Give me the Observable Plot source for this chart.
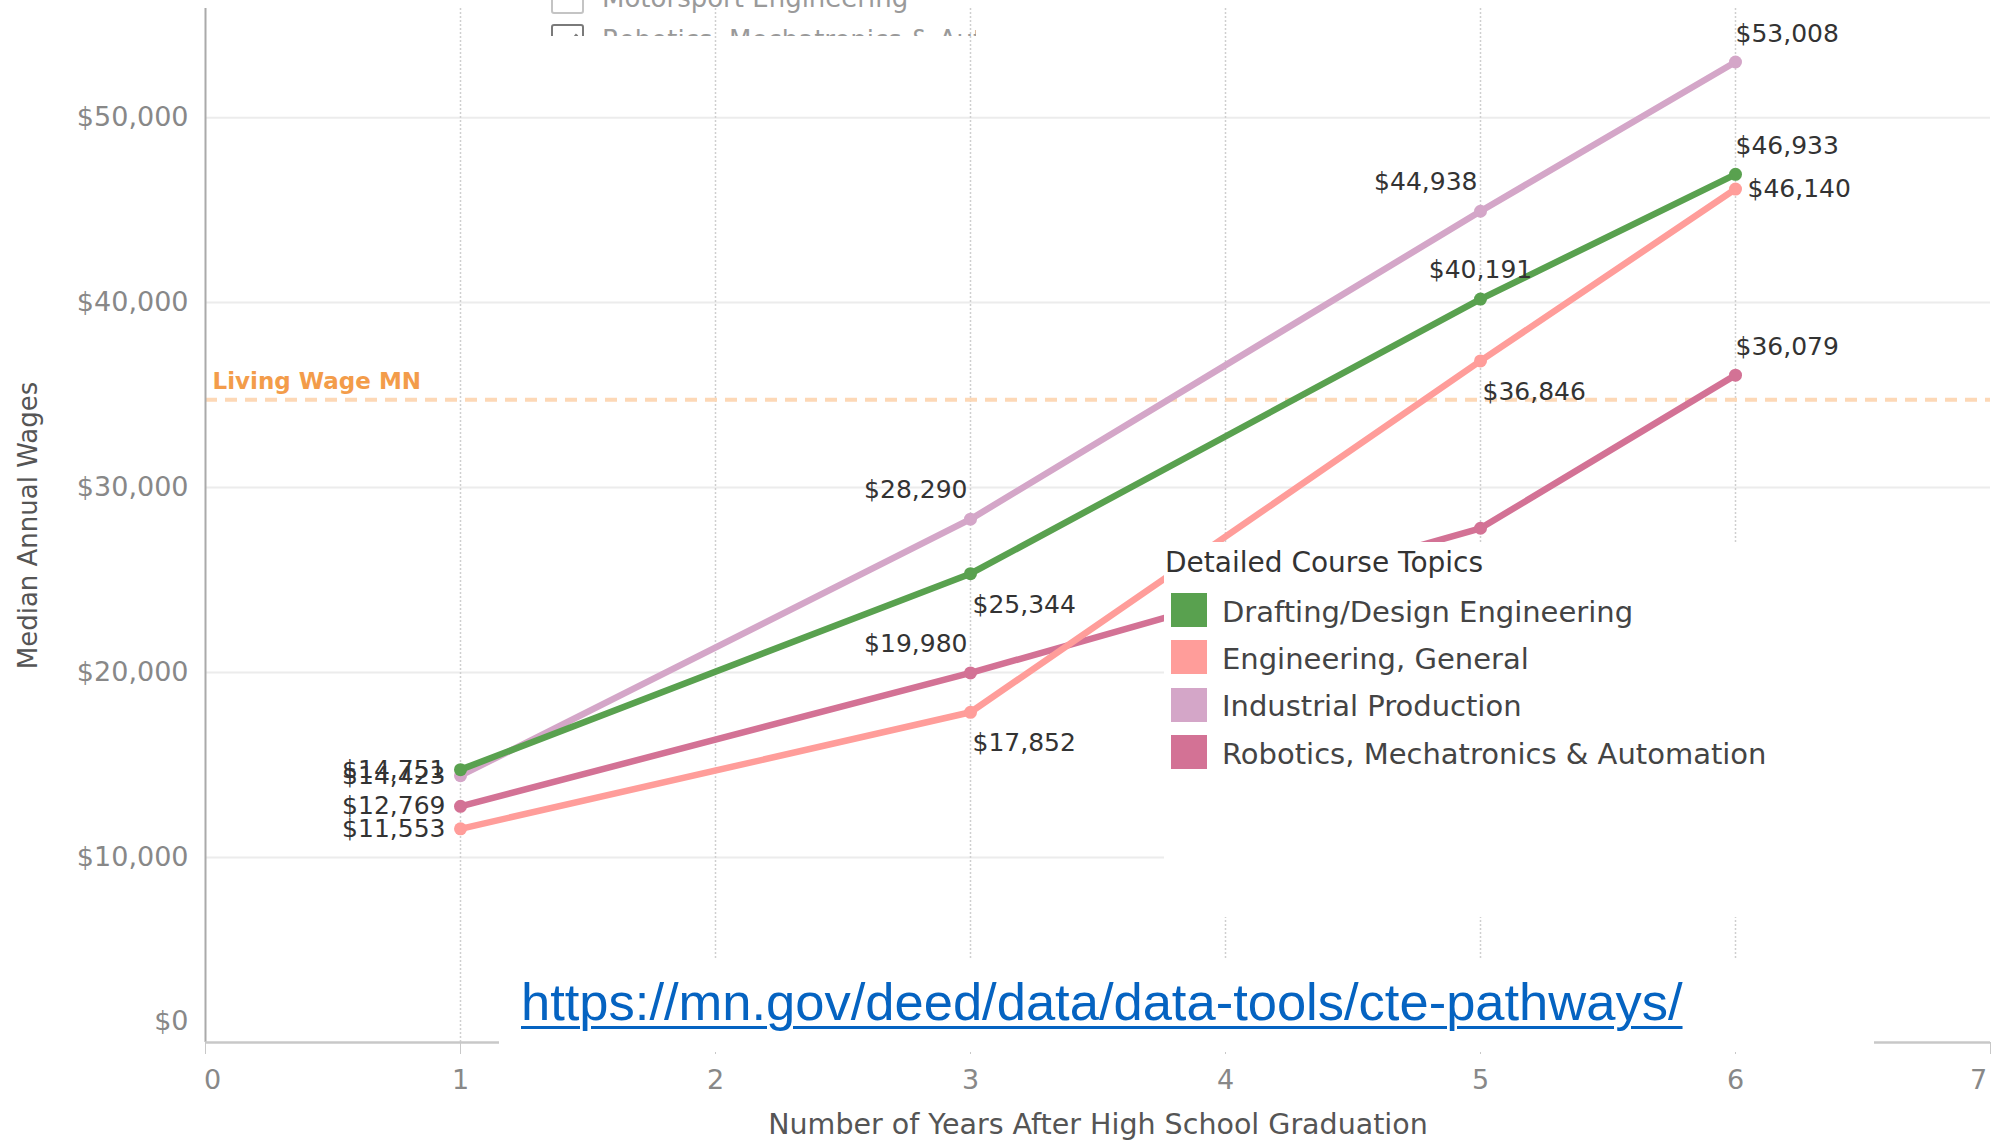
<!DOCTYPE html>
<html>
<head>
<meta charset="utf-8">
<script src="https://cdn.jsdelivr.net/npm/d3@7"></script>
<script src="https://cdn.jsdelivr.net/npm/@observablehq/plot@0.6"></script>
<style>
  html, body { margin: 0; padding: 0; background: #fff; overflow: hidden; }
  #wrap { position: relative; width: 1992px; height: 1141px; font-family: "DejaVu Sans", sans-serif; }
  #wrap svg { position: absolute; left: 0; top: 0; }
  #filter { position: absolute; left: 0; top: 0; width: 976px; height: 36px; overflow: hidden; }
  #filter .cb { position: absolute; left: 551px; width: 33px; height: 29px; border: 2px solid #c4c4c4; border-radius: 3px; box-sizing: border-box; }
  #filter .cb.on { border-color: #7a7a7a; }
  #filter .cb.on::after { content: ""; position: absolute; left: 10px; top: 4px; width: 8px; height: 14px; border-right: 3px solid #7a7a7a; border-bottom: 3px solid #7a7a7a; transform: rotate(40deg); }
  #filter .lbl { position: absolute; left: 602px; font-size: 26px; line-height: 26px; color: #9a9a9a; white-space: nowrap; }
  #legend { position: absolute; left: 1164px; top: 542px; width: 828px; height: 375px; background: #fff; }
  #legend .title { position: absolute; left: 1px; top: 7px; font-size: 28px; line-height: 28px; color: #333; white-space: nowrap; }
  #legend .sw { position: absolute; left: 7px; width: 36px; height: 34px; }
  #legend .txt { position: absolute; left: 58px; font-size: 29px; line-height: 34px; color: #444; white-space: nowrap; }
  #url { position: absolute; left: 499px; top: 959px; width: 1375px; height: 93px; background: #fff; }
  #url a { position: absolute; left: 22px; top: 17px; font-family: "Liberation Sans", Arial, sans-serif; font-size: 52.5px; line-height: 52px; color: #0563c1; text-decoration: underline; text-decoration-thickness: 3px; text-underline-offset: 6px; white-space: nowrap; }
</style>
</head>
<body>
<div id="wrap"></div>
<script>
// ---------- data ----------
const years = [1, 3, 5, 6];
const topics = [
  "Drafting/Design Engineering",
  "Engineering, General",
  "Industrial Production",
  "Robotics, Mechatronics & Automation"
];
const drafting    = [14751, 25344, 40191, 46933];
const engineering = [11553, 17852, 36846, 46140];
const industrial  = [14423, 28290, 44938, 53008];
const robotics    = [12769, 19980, 27800, 36079];
const livingWage = 34750;
const livingWageLabel = "Living Wage MN";
const yTicks = [10000, 20000, 30000, 40000, 50000];
const xTicks = [0, 1, 2, 3, 4, 5, 6, 7];
const filterItems = ["Motorsport Engineering", "Robotics, Mechatronics & Automation"];
const legendTitle = "Detailed Course Topics";
const sourceUrl = "https://mn.gov/deed/data/data-tools/cte-pathways/";
const xTitle = "Number of Years After High School Graduation";
const yTitle = "Median Annual Wages";

// ---------- styling config ----------
const colors = ["#59a14f", "#ff9d9a", "#d4a6c8", "#d37295"];
// where each value label sits relative to its point (per topic, per year)
const labelPlacement = [
  ["left", "below", "above", "aboveStart"],
  ["left", "below", "below", "right"],
  ["left", "aboveEnd", "aboveEnd", "aboveStart"],
  ["left", "aboveEnd", "none", "aboveStart"]
];
const placeStyle = {
  left:       {textAnchor: "end",    dx: -15, dy: 0},
  aboveStart: {textAnchor: "start",  dx: 0,   dy: -28},
  aboveEnd:   {textAnchor: "end",    dx: -3,  dy: -29},
  above:      {textAnchor: "middle", dx: 0,   dy: -29},
  below:      {textAnchor: "start",  dx: 2,   dy: 31},
  right:      {textAnchor: "start",  dx: 12,  dy: 0}
};

const series = [drafting, engineering, industrial, robotics];
const rows = topics.flatMap((t, i) => years.map((yr, j) => ({
  topic: t, year: yr, wage: series[i][j], place: labelPlacement[i][j], idx: i
})));
const fmt = d3.format("$,");

// draw order: last topic first so the first topic ends on top
const seriesMarks = [];
for (let i = topics.length - 1; i >= 0; i--) {
  const d = rows.filter(r => r.idx === i);
  seriesMarks.push(Plot.line(d, {x: "year", y: "wage", stroke: "topic", strokeWidth: 6.5, strokeLinejoin: "round"}));
  seriesMarks.push(Plot.dot(d, {x: "year", y: "wage", fill: "topic", r: 6.5}));
}
const labelMarks = Object.entries(placeStyle).map(([p, s]) =>
  Plot.text(rows.filter(r => r.place === p), {
    x: "year", y: "wage", text: d => fmt(d.wage),
    textAnchor: s.textAnchor, dx: s.dx, dy: s.dy, fontSize: 25, fill: "#333"
  })
);
const xfmt = d => String(d);

const chart = Plot.plot({
  width: 1992, height: 1141,
  marginLeft: 205, marginRight: 2, marginTop: 8, marginBottom: 99,
  style: {fontFamily: "'DejaVu Sans', sans-serif", background: "transparent", overflow: "visible"},
  x: {domain: [0, 7], label: null},
  y: {domain: [0, 55900], label: null},
  color: {domain: topics, range: colors},
  marks: [
    Plot.ruleY(yTicks, {stroke: "#ececec", strokeWidth: 2}),
    Plot.ruleX(xTicks.filter(d => d > 0 && d < 7), {stroke: "#cfcfcf", strokeWidth: 1.5, strokeDasharray: "2,2"}),
    Plot.ruleY([livingWage], {stroke: "#fdd8b6", strokeWidth: 4, strokeDasharray: "12,8"}),
    Plot.text([livingWage], {y: d => d, frameAnchor: "left", text: () => livingWageLabel,
      dx: 7, dy: -18, textAnchor: "start", fill: "#f39c4a", fontWeight: "bold", fontSize: 23}),
    Plot.ruleX([0], {stroke: "#aaaaaa", strokeWidth: 2}),
    Plot.ruleY([0], {stroke: "#c8c8c8", strokeWidth: 2.5}),
    Plot.axisX({ticks: xTicks, tickSize: 12, tickFormat: () => "", color: "#c8c8c8"}),
    Plot.axisX({ticks: xTicks.filter(d => d > 0 && d < 7), tickSize: 0, tickPadding: 27, tickFormat: xfmt, fontSize: 27, color: "#888"}),
    Plot.axisX({ticks: [0], tickSize: 0, tickPadding: 27, tickFormat: xfmt, fontSize: 27, color: "#888", dx: 7}),
    Plot.axisX({ticks: [7], tickSize: 0, tickPadding: 27, tickFormat: xfmt, fontSize: 27, color: "#888", dx: -12}),
    Plot.axisY({ticks: yTicks, tickSize: 0, tickPadding: 17, tickFormat: fmt, fontSize: 27, color: "#888"}),
    Plot.axisY({ticks: [0], tickSize: 0, tickPadding: 17, tickFormat: fmt, fontSize: 27, color: "#888", dy: -21}),
    Plot.text([yTitle], {frameAnchor: "left", text: d => d, rotate: -90, dx: -177,
      textAnchor: "middle", lineAnchor: "middle", fontSize: 26, fill: "#555"}),
    Plot.text([xTitle], {frameAnchor: "bottom", text: d => d, dy: 82,
      textAnchor: "middle", lineAnchor: "middle", fontSize: 28.5, fill: "#555"}),
    ...seriesMarks,
    ...labelMarks
  ]
});

const wrap = document.getElementById("wrap");
wrap.appendChild(chart);

// filter remnant at the top
const filter = document.createElement("div");
filter.id = "filter";
filterItems.forEach((t, i) => {
  const top = -15 + i * 42;
  const cb = document.createElement("div");
  cb.className = "cb" + (i === 1 ? " on" : "");
  cb.style.top = (top - (i === 1 ? 3 : 0)) + "px";
  const lb = document.createElement("div");
  lb.className = "lbl";
  lb.style.top = top + "px";
  lb.textContent = t;
  filter.append(cb, lb);
});
wrap.appendChild(filter);

// legend built from the chart's color scale
const cs = chart.scale("color");
const legend = document.createElement("div");
legend.id = "legend";
const title = document.createElement("div");
title.className = "title";
title.textContent = legendTitle;
legend.appendChild(title);
cs.domain.forEach((t, i) => {
  const c = 68 + i * 47.3;
  const sw = document.createElement("div");
  sw.className = "sw";
  sw.style.top = (c - 17) + "px";
  sw.style.background = cs.range[i];
  const tx = document.createElement("div");
  tx.className = "txt";
  tx.style.top = (c - 15.4) + "px";
  tx.textContent = t;
  legend.append(sw, tx);
});
wrap.appendChild(legend);

// source link
const url = document.createElement("div");
url.id = "url";
const a = document.createElement("a");
a.href = sourceUrl;
a.textContent = sourceUrl;
url.appendChild(a);
wrap.appendChild(url);
</script>
</body>
</html>
